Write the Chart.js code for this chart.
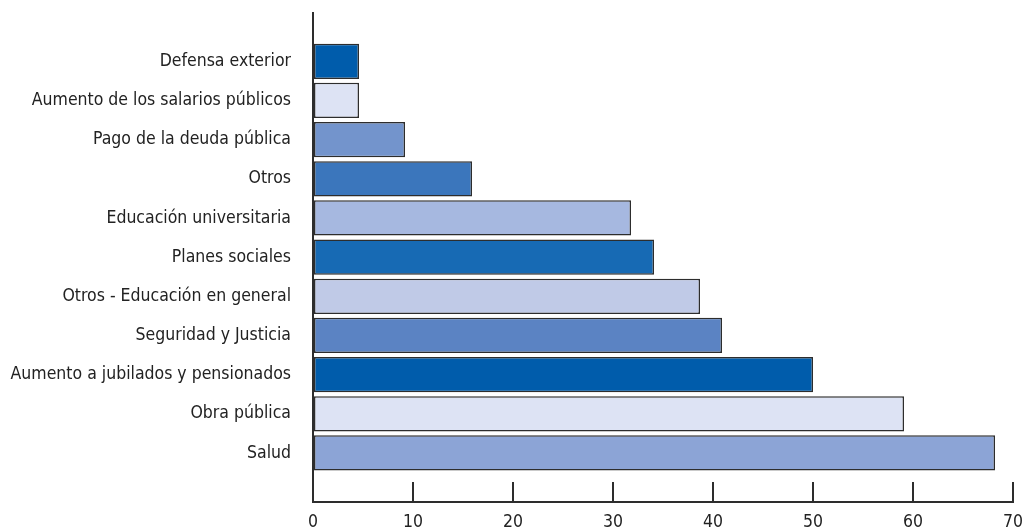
<!DOCTYPE html>
<html>
<head>
<meta charset="utf-8">
<script src="https://cdn.jsdelivr.net/npm/chart.js@4"></script>
<style>
  html, body { margin: 0; padding: 0; background: #fff; }
  #wrap { width: 1024px; height: 530px; }
</style>
</head>
<body>
<div id="wrap"><canvas id="gastoChart" width="1024" height="530"></canvas></div>
<script>
// Categories, top to bottom as in the picture
const categories = [
  'Defensa exterior',
  'Aumento de los salarios públicos',
  'Pago de la deuda pública',
  'Otros',
  'Educación universitaria',
  'Planes sociales',
  'Otros - Educación en general',
  'Seguridad y Justicia',
  'Aumento a jubilados y pensionados',
  'Obra pública',
  'Salud',
];
const values = [4.6, 4.6, 9.2, 15.9, 31.8, 34.1, 38.7, 40.9, 50.0, 59.1, 68.2];
const barColors = [
  '#005cab', '#dde3f4', '#7394cc', '#3b76bc', '#a6b8e0', '#176ab4',
  '#c0cae7', '#5b83c3', '#005cab', '#dde3f4', '#8ca4d6',
];
const xTicks = [0, 10, 20, 30, 40, 50, 60, 70];

const fontFamily = "'Liberation Sans Narrow', 'DejaVu Sans Condensed', sans-serif";
const axisColor = '#2d2d2d';
const textColor = '#222222';

document.addEventListener('DOMContentLoaded', function () {
  const ctx = document.getElementById('gastoChart');

  // one point per category; y is the category position
  const points = values.map((v, i) => ({ x: v, y: i }));

  new Chart(ctx, {
    type: 'bar',
    data: {
      datasets: [
        {
          data: points,
          backgroundColor: barColors,
          borderColor: axisColor,
          borderWidth: 1.5,
          borderSkipped: false,
          barPercentage: 0.9,
          categoryPercentage: 1,
        },
      ],
    },
    options: {
      indexAxis: 'y',
      responsive: false,
      animation: false,
      layout: {
        padding: { top: 13, right: 11, left: 0, bottom: 0 },
      },
      plugins: {
        legend: { display: false },
        tooltip: { enabled: false },
      },
      scales: {
        x: {
          type: 'linear',
          position: 'bottom',
          min: 0,
          max: 70,
          afterBuildTicks: (scale) => {
            scale.ticks = xTicks.map((v) => ({ value: v }));
          },
          afterFit: (scale) => {
            scale.height = 28;
            scale.paddingLeft = 0;
            scale.paddingRight = 0;
          },
          grid: {
            drawOnChartArea: false,
            drawTicks: true,
            tickLength: -20,
            color: axisColor,
            lineWidth: 2,
          },
          border: { display: true, color: axisColor, width: 2 },
          ticks: {
            padding: 30,
            color: textColor,
            font: { family: fontFamily, size: 17.5 },
            maxRotation: 0,
          },
        },
        y: {
          type: 'linear',
          reverse: true,
          offset: false,
          min: -1.233,
          max: 11.251,
          afterBuildTicks: (scale) => {
            scale.ticks = categories.map((_, i) => ({ value: i }));
          },
          afterFit: (scale) => {
            scale.width = 313;
            scale.paddingTop = 0;
            scale.paddingBottom = 0;
          },
          grid: {
            drawOnChartArea: false,
            drawTicks: false,
          },
          border: { display: true, color: axisColor, width: 2 },
          ticks: {
            padding: 22,
            color: textColor,
            font: { family: fontFamily, size: 17.5 },
            callback: (value) => categories[value] ?? '',
          },
        },
      },
    },
  });
});
</script>
</body>
</html>
